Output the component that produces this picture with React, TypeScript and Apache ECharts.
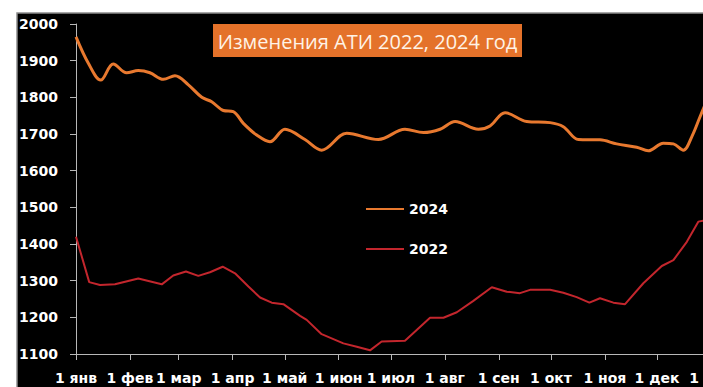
import React, { useEffect, useRef } from "react";
import * as echarts from "echarts";

const monthDays = [0, 31, 59, 90, 120, 151, 181, 212, 243, 273, 304, 334, 365];
const monthLabels = ["1 янв", "1 фев", "1 мар", "1 апр", "1 май", "1 июн", "1 июл", "1 авг", "1 сен", "1 окт", "1 ноя", "1 дек", "1"];

const days2024 = [0, 7.1, 14.2, 21.4, 29.1, 35.8, 42.5, 50.2, 56.9, 64.6, 72.3, 78, 84.7, 90.4, 96.2, 103.9, 111.5, 120.1, 131.6, 141.2, 155.6, 173.8, 189.1, 199.7, 209.3, 217.9, 231.3, 238, 246.6, 259.1, 272.5, 280.1, 288.8, 301.2, 310.8, 322.3, 329, 337.6, 343.4, 349.1, 354, 358.7, 362];
const values2024 = [1965, 1893, 1847, 1891, 1867, 1873, 1867, 1849, 1859, 1834, 1800, 1788, 1764, 1761, 1729, 1697, 1679, 1713, 1685, 1656, 1702, 1685, 1713, 1704, 1713, 1734, 1713, 1722, 1758, 1734, 1731, 1720, 1685, 1684, 1673, 1664, 1654, 1675, 1673, 1656, 1693, 1747, 1785];

const days2022 = [0, 7.6, 13.8, 22.4, 35.8, 49.3, 55.9, 63.2, 70.3, 77, 84.3, 91.4, 99.1, 105.8, 112.5, 119.2, 128.8, 132.6, 141.2, 153.7, 161.4, 169, 175.7, 189.1, 203.5, 211.2, 218.9, 228.4, 239, 247.6, 255.2, 261, 272.5, 280.1, 287.8, 295.1, 301.2, 308.9, 315.6, 326.1, 336.7, 343.4, 351.1, 357.7, 364];
const values2022 = [1420, 1296, 1288, 1290, 1306, 1290, 1314, 1325, 1313, 1323, 1338, 1320, 1284, 1254, 1240, 1236, 1204, 1193, 1154, 1129, 1120, 1110, 1134, 1136, 1199, 1199, 1214, 1245, 1282, 1270, 1266, 1275, 1275, 1267, 1255, 1240, 1252, 1240, 1236, 1293, 1340, 1356, 1406, 1461, 1466];

const titleText = "Изменения АТИ 2022, 2024 год";

export default function App() {
  const ref = useRef<HTMLDivElement>(null);
  useEffect(() => {
    if (!ref.current) return;
    const chart = echarts.init(ref.current, null, { renderer: "svg" });
    const labelFont = {
      color: "#ffffff",
      fontFamily: "DejaVu Sans",
      fontWeight: "bold" as const,
      fontSize: 14,
    };
    chart.setOption({
      animation: false,
      backgroundColor: "#ffffff",
      graphic: [
        {
          type: "rect",
          z: -10,
          shape: { x: 17, y: 13, width: 760, height: 420 },
          style: { fill: "#000000", stroke: "#8c8c8c", lineWidth: 1.5 },
        },
        {
          type: "rect",
          z: 10,
          shape: { x: 213, y: 24, width: 309, height: 33 },
          style: { fill: "#E4722A" },
        },
        {
          type: "text",
          z: 11,
          x: 367.5,
          y: 41,
          style: {
            text: titleText,
            fill: "#FFF3E6",
            fontFamily: "Open Sans",
            fontSize: 20,
            align: "center",
            verticalAlign: "middle",
          },
        },
      ],
      legend: {
        orient: "vertical",
        left: 360,
        top: 197,
        itemWidth: 38,
        itemHeight: 14,
        itemGap: 26,
        itemStyle: { opacity: 0 },
        textStyle: { ...labelFont, padding: [0, 0, 0, 0] },
        data: ["2024", "2022"],
      },
      grid: { left: 76, top: 24, right: 29, bottom: 33, containLabel: false },
      xAxis: {
        type: "value",
        min: 0,
        max: 365,
        splitLine: { show: false },
        axisLine: { lineStyle: { color: "#b8b8b8", width: 1 } },
        axisTick: { customValues: monthDays, length: 6, lineStyle: { color: "#b8b8b8" } },
        axisLabel: {
          ...labelFont,
          margin: 17,
          customValues: monthDays,
          formatter: (v: number) => {
            const i = monthDays.indexOf(Math.round(v));
            if (i < 0) return "";
            if (i === monthDays.length - 1) return "{e|" + monthLabels[i] + "}";
            return monthLabels[i];
          },
          rich: {
            e: { ...labelFont, padding: [0, 34, 0, 0] },
          },
        },
      },
      yAxis: {
        type: "value",
        min: 1100,
        max: 2000,
        interval: 100,
        splitLine: { show: false },
        axisLine: { show: true, lineStyle: { color: "#b8b8b8", width: 1 } },
        axisTick: { show: true, length: 6, lineStyle: { color: "#b8b8b8" } },
        axisLabel: { ...labelFont, margin: 18, formatter: (v: number) => String(v) },
      },
      series: [
        {
          name: "2024",
          type: "line",
          smooth: 0.35,
          symbol: "none",
          lineStyle: { color: "#E8792F", width: 3 },
          itemStyle: { color: "#E8792F" },
          data: days2024.map((d, i) => [d, values2024[i]]),
        },
        {
          name: "2022",
          type: "line",
          symbol: "none",
          lineStyle: { color: "#C3262D", width: 2 },
          itemStyle: { color: "#C3262D" },
          data: days2022.map((d, i) => [d, values2022[i]]),
        },
      ],
    });
    return () => chart.dispose();
  }, []);
  return (
    <div style={{ position: "fixed", left: 0, top: 0, width: 703, height: 387, overflow: "hidden", background: "#fff" }}>
      <div ref={ref} style={{ width: 740, height: 387 }} />
    </div>
  );
}
